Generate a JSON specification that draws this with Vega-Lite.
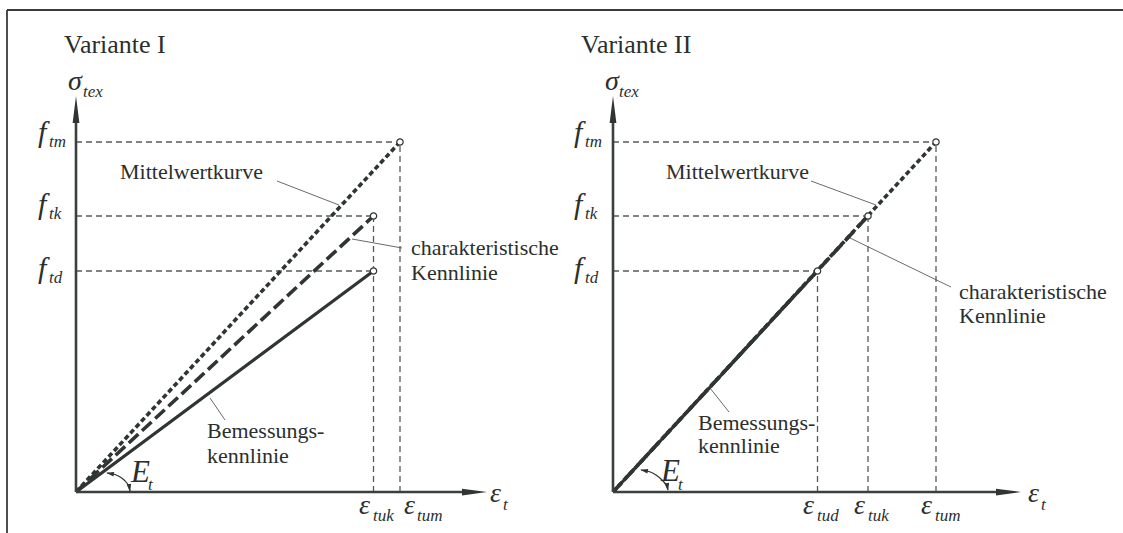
{
  "$schema": "https://vega.github.io/schema/vega-lite/v6.json",
  "width": 1123,
  "height": 533,
  "padding": 0,
  "autosize": {"type": "none"},
  "background": "white",
  "config": {"view": {"stroke": null}},
  "datasets": {
    "segments": [
      {"kind": "frame", "x": 7, "y": 482, "x2": 1123, "y2": 482},
      {"kind": "frame", "x": 7, "y": 482, "x2": 7, "y2": -41},
      {"kind": "axis", "x": 76, "y": 0, "x2": 76, "y2": 372},
      {"kind": "axis", "x": 76, "y": 0, "x2": 463, "y2": 0},
      {"kind": "axis", "x": 613, "y": 0, "x2": 613, "y2": 372},
      {"kind": "axis", "x": 613, "y": 0, "x2": 998, "y2": 0},
      {"kind": "guide", "x": 76, "y": 350, "x2": 400, "y2": 350},
      {"kind": "guide", "x": 76, "y": 276, "x2": 373.5, "y2": 276},
      {"kind": "guide", "x": 76, "y": 221, "x2": 373.5, "y2": 221},
      {"kind": "guide", "x": 400, "y": 0, "x2": 400, "y2": 350},
      {"kind": "guide", "x": 373.5, "y": 0, "x2": 373.5, "y2": 276},
      {"kind": "guide", "x": 613, "y": 350, "x2": 936, "y2": 350},
      {"kind": "guide", "x": 613, "y": 276, "x2": 868, "y2": 276},
      {"kind": "guide", "x": 613, "y": 221, "x2": 817.5, "y2": 221},
      {"kind": "guide", "x": 936, "y": 0, "x2": 936, "y2": 350},
      {"kind": "guide", "x": 868, "y": 0, "x2": 868, "y2": 276},
      {"kind": "guide", "x": 817.5, "y": 0, "x2": 817.5, "y2": 221},
      {"kind": "leader", "x": 277, "y": 311, "x2": 339, "y2": 287},
      {"kind": "leader", "x": 352, "y": 253, "x2": 402, "y2": 244},
      {"kind": "leader", "x": 210, "y": 94, "x2": 225, "y2": 72},
      {"kind": "leader", "x": 811, "y": 311, "x2": 876, "y2": 287},
      {"kind": "leader", "x": 850, "y": 254, "x2": 951, "y2": 205},
      {"kind": "leader", "x": 710, "y": 104, "x2": 729, "y2": 80},
      {"kind": "mean", "x": 76, "y": 0, "x2": 400, "y2": 350},
      {"kind": "char", "x": 76, "y": 0, "x2": 373.5, "y2": 276},
      {"kind": "design", "x": 76, "y": 0, "x2": 373.5, "y2": 221},
      {"kind": "mean", "x": 613, "y": 0, "x2": 936, "y2": 350},
      {"kind": "char", "x": 613, "y": 0, "x2": 868, "y2": 276},
      {"kind": "design", "x": 613, "y": 0, "x2": 817.5, "y2": 221}
    ],
    "ends": [
      {"x": 400, "y": 350}, {"x": 373.5, "y": 276}, {"x": 373.5, "y": 221},
      {"x": 936, "y": 350}, {"x": 868, "y": 276}, {"x": 817.5, "y": 221}
    ],
    "heads": [
      {"dir": "up", "x": 76, "y": 382.5},
      {"dir": "up", "x": 613, "y": 382.5},
      {"dir": "right", "x": 474.5, "y": 0},
      {"dir": "right", "x": 1008.5, "y": 0},
      {"dir": "arcstart", "x": 110, "y": 18.5},
      {"dir": "arcend", "x": 129.5, "y": 4},
      {"dir": "arcstart", "x": 644, "y": 21.5},
      {"dir": "arcend", "x": 667.5, "y": 5}
    ],
    "arcs": [
      {"panel": "I", "i": 0, "x": 107, "y": 19},
      {"panel": "I", "i": 1, "x": 115, "y": 17.5},
      {"panel": "I", "i": 2, "x": 121, "y": 14.5},
      {"panel": "I", "i": 3, "x": 126, "y": 10},
      {"panel": "I", "i": 4, "x": 129, "y": 5},
      {"panel": "I", "i": 5, "x": 130, "y": 0.5},
      {"panel": "II", "i": 0, "x": 641, "y": 22},
      {"panel": "II", "i": 1, "x": 649, "y": 20.5},
      {"panel": "II", "i": 2, "x": 656, "y": 17},
      {"panel": "II", "i": 3, "x": 662, "y": 12},
      {"panel": "II", "i": 4, "x": 666, "y": 7},
      {"panel": "II", "i": 5, "x": 668, "y": 2}
    ],
    "labels": [
      {"text": "Variante I", "x": 64, "y": 439, "kind": "title"},
      {"text": "Variante II", "x": 581, "y": 439, "kind": "title"},
      {"text": "Mittelwertkurve", "x": 120, "y": 313, "kind": "label"},
      {"text": "charakteristische", "x": 411, "y": 237, "kind": "label"},
      {"text": "Kennlinie", "x": 411, "y": 212, "kind": "label"},
      {"text": "Bemessungs-", "x": 207, "y": 54, "kind": "label"},
      {"text": "kennlinie", "x": 207, "y": 29, "kind": "label"},
      {"text": "Mittelwertkurve", "x": 666, "y": 313, "kind": "label"},
      {"text": "charakteristische", "x": 959, "y": 193, "kind": "label"},
      {"text": "Kennlinie", "x": 959, "y": 169, "kind": "label"},
      {"text": "Bemessungs-", "x": 698, "y": 62, "kind": "label"},
      {"text": "kennlinie", "x": 698, "y": 39, "kind": "label"},
      {"text": "σ", "x": 68, "y": 402, "kind": "sym"},
      {"text": "f", "x": 38, "y": 350, "kind": "symF"},
      {"text": "f", "x": 38, "y": 278, "kind": "symF"},
      {"text": "f", "x": 38, "y": 214, "kind": "symF"},
      {"text": "ε", "x": 359, "y": -22, "kind": "sym"},
      {"text": "ε", "x": 404, "y": -22, "kind": "sym"},
      {"text": "ε", "x": 490, "y": -10, "kind": "sym"},
      {"text": "σ", "x": 605, "y": 402, "kind": "sym"},
      {"text": "f", "x": 574, "y": 350, "kind": "symF"},
      {"text": "f", "x": 574, "y": 278, "kind": "symF"},
      {"text": "f", "x": 574, "y": 214, "kind": "symF"},
      {"text": "ε", "x": 803, "y": -22, "kind": "sym"},
      {"text": "ε", "x": 854, "y": -22, "kind": "sym"},
      {"text": "ε", "x": 921, "y": -22, "kind": "sym"},
      {"text": "ε", "x": 1028, "y": -10, "kind": "sym"},
      {"text": "E", "x": 131, "y": 10, "kind": "symE"},
      {"text": "E", "x": 661, "y": 11, "kind": "symE"},
      {"text": "tex", "x": 83, "y": 395, "kind": "sub"},
      {"text": "tm", "x": 49, "y": 345, "kind": "sub"},
      {"text": "tk", "x": 49, "y": 273, "kind": "sub"},
      {"text": "td", "x": 49, "y": 209, "kind": "sub"},
      {"text": "tuk", "x": 373, "y": -29, "kind": "sub"},
      {"text": "tum", "x": 417, "y": -29, "kind": "sub"},
      {"text": "t", "x": 503, "y": -18, "kind": "sub"},
      {"text": "t", "x": 148, "y": 2, "kind": "sub"},
      {"text": "tex", "x": 619, "y": 395, "kind": "sub"},
      {"text": "tm", "x": 585, "y": 345, "kind": "sub"},
      {"text": "tk", "x": 585, "y": 273, "kind": "sub"},
      {"text": "td", "x": 585, "y": 209, "kind": "sub"},
      {"text": "tud", "x": 817, "y": -29, "kind": "sub"},
      {"text": "tuk", "x": 868, "y": -29, "kind": "sub"},
      {"text": "tum", "x": 935, "y": -29, "kind": "sub"},
      {"text": "t", "x": 1041, "y": -18, "kind": "sub"},
      {"text": "t", "x": 678, "y": 2, "kind": "sub"}
    ]
  },
  "encoding": {
    "x": {"field": "x", "type": "quantitative", "scale": {"domain": [0, 1123], "nice": false, "zero": false}, "axis": null},
    "y": {"field": "y", "type": "quantitative", "scale": {"domain": [-41, 492], "nice": false, "zero": false}, "axis": null}
  },
  "layer": [
    {
      "data": {"name": "segments"},
      "transform": [{"filter": "datum.kind === 'frame'"}],
      "mark": {"type": "rule", "strokeWidth": 1.8, "color": "#3a3a3a"},
      "encoding": {"x2": {"field": "x2"}, "y2": {"field": "y2"}}
    },
    {
      "data": {"name": "segments"},
      "transform": [{"filter": "datum.kind === 'guide'"}],
      "mark": {"type": "rule", "strokeWidth": 1.3, "strokeDash": [6, 4], "color": "#555b58"},
      "encoding": {"x2": {"field": "x2"}, "y2": {"field": "y2"}}
    },
    {
      "data": {"name": "segments"},
      "transform": [{"filter": "datum.kind === 'leader'"}],
      "mark": {"type": "rule", "strokeWidth": 0.9, "color": "#555b58"},
      "encoding": {"x2": {"field": "x2"}, "y2": {"field": "y2"}}
    },
    {
      "data": {"name": "segments"},
      "transform": [{"filter": "datum.kind === 'mean'"}],
      "mark": {"type": "rule", "strokeWidth": 3.6, "strokeDash": [5, 3], "color": "#2e3532"},
      "encoding": {"x2": {"field": "x2"}, "y2": {"field": "y2"}}
    },
    {
      "data": {"name": "segments"},
      "transform": [{"filter": "datum.kind === 'char'"}],
      "mark": {"type": "rule", "strokeWidth": 3.6, "strokeDash": [13, 5], "color": "#2e3532"},
      "encoding": {"x2": {"field": "x2"}, "y2": {"field": "y2"}}
    },
    {
      "data": {"name": "segments"},
      "transform": [{"filter": "datum.kind === 'design'"}],
      "mark": {"type": "rule", "strokeWidth": 3.2, "color": "#2e3532"},
      "encoding": {"x2": {"field": "x2"}, "y2": {"field": "y2"}}
    },
    {
      "data": {"name": "segments"},
      "transform": [{"filter": "datum.kind === 'axis'"}],
      "mark": {"type": "rule", "strokeWidth": 2.6, "color": "#3a403d"},
      "encoding": {"x2": {"field": "x2"}, "y2": {"field": "y2"}}
    },
    {
      "data": {"name": "heads"},
      "transform": [{"filter": "datum.dir === 'up'"}],
      "mark": {"type": "point", "shape": "M0,-1L0.25,1L-0.25,1Z", "size": 729, "filled": true, "opacity": 1, "color": "#2e3532"},
      "encoding": {}
    },
    {
      "data": {"name": "heads"},
      "transform": [{"filter": "datum.dir === 'right'"}],
      "mark": {"type": "point", "shape": "M1,0L-1,-0.27L-1,0.27Z", "size": 625, "filled": true, "opacity": 1, "color": "#2e3532"},
      "encoding": {}
    },
    {
      "data": {"name": "heads"},
      "transform": [{"filter": "datum.dir === 'arcstart'"}],
      "mark": {"type": "point", "shape": "M0,-1L0.6,1L-0.6,1Z", "size": 60, "angle": 280, "filled": true, "opacity": 1, "color": "#2e3532"},
      "encoding": {}
    },
    {
      "data": {"name": "heads"},
      "transform": [{"filter": "datum.dir === 'arcend'"}],
      "mark": {"type": "point", "shape": "M0,-1L0.6,1L-0.6,1Z", "size": 60, "angle": 170, "filled": true, "opacity": 1, "color": "#2e3532"},
      "encoding": {}
    },
    {
      "data": {"name": "arcs"},
      "mark": {"type": "line", "strokeWidth": 1.2, "color": "#2e3532", "interpolate": "monotone"},
      "encoding": {"order": {"field": "i", "type": "quantitative"}, "detail": {"field": "panel"}}
    },
    {
      "data": {"name": "ends"},
      "mark": {"type": "point", "shape": "circle", "size": 40, "filled": false, "fill": "white", "fillOpacity": 1, "opacity": 1, "strokeWidth": 1.2, "color": "#2e3532"},
      "encoding": {}
    },
    {
      "data": {"name": "labels"},
      "transform": [{"filter": "datum.kind === 'title'"}],
      "mark": {"type": "text", "align": "left", "baseline": "alphabetic", "font": "'Liberation Serif', 'Times New Roman', 'DejaVu Serif', serif", "fontSize": 26, "color": "#2b2f2d"},
      "encoding": {"text": {"field": "text"}}
    },
    {
      "data": {"name": "labels"},
      "transform": [{"filter": "datum.kind === 'label'"}],
      "mark": {"type": "text", "align": "left", "baseline": "alphabetic", "font": "'Liberation Serif', 'Times New Roman', 'DejaVu Serif', serif", "fontSize": 22, "color": "#2b2f2d"},
      "encoding": {"text": {"field": "text"}}
    },
    {
      "data": {"name": "labels"},
      "transform": [{"filter": "datum.kind === 'sym'"}],
      "mark": {"type": "text", "align": "left", "baseline": "alphabetic", "font": "'Liberation Serif', 'Times New Roman', 'DejaVu Serif', serif", "fontStyle": "italic", "fontSize": 28, "color": "#2b2f2d"},
      "encoding": {"text": {"field": "text"}}
    },
    {
      "data": {"name": "labels"},
      "transform": [{"filter": "datum.kind === 'symF'"}],
      "mark": {"type": "text", "align": "left", "baseline": "alphabetic", "font": "'Liberation Serif', 'Times New Roman', 'DejaVu Serif', serif", "fontStyle": "italic", "fontSize": 30, "color": "#2b2f2d"},
      "encoding": {"text": {"field": "text"}}
    },
    {
      "data": {"name": "labels"},
      "transform": [{"filter": "datum.kind === 'symE'"}],
      "mark": {"type": "text", "align": "left", "baseline": "alphabetic", "font": "'Liberation Serif', 'Times New Roman', 'DejaVu Serif', serif", "fontStyle": "italic", "fontSize": 31, "color": "#2b2f2d"},
      "encoding": {"text": {"field": "text"}}
    },
    {
      "data": {"name": "labels"},
      "transform": [{"filter": "datum.kind === 'sub'"}],
      "mark": {"type": "text", "align": "left", "baseline": "alphabetic", "font": "'Liberation Serif', 'Times New Roman', 'DejaVu Serif', serif", "fontStyle": "italic", "fontSize": 17, "color": "#2b2f2d"},
      "encoding": {"text": {"field": "text"}}
    }
  ]
}
